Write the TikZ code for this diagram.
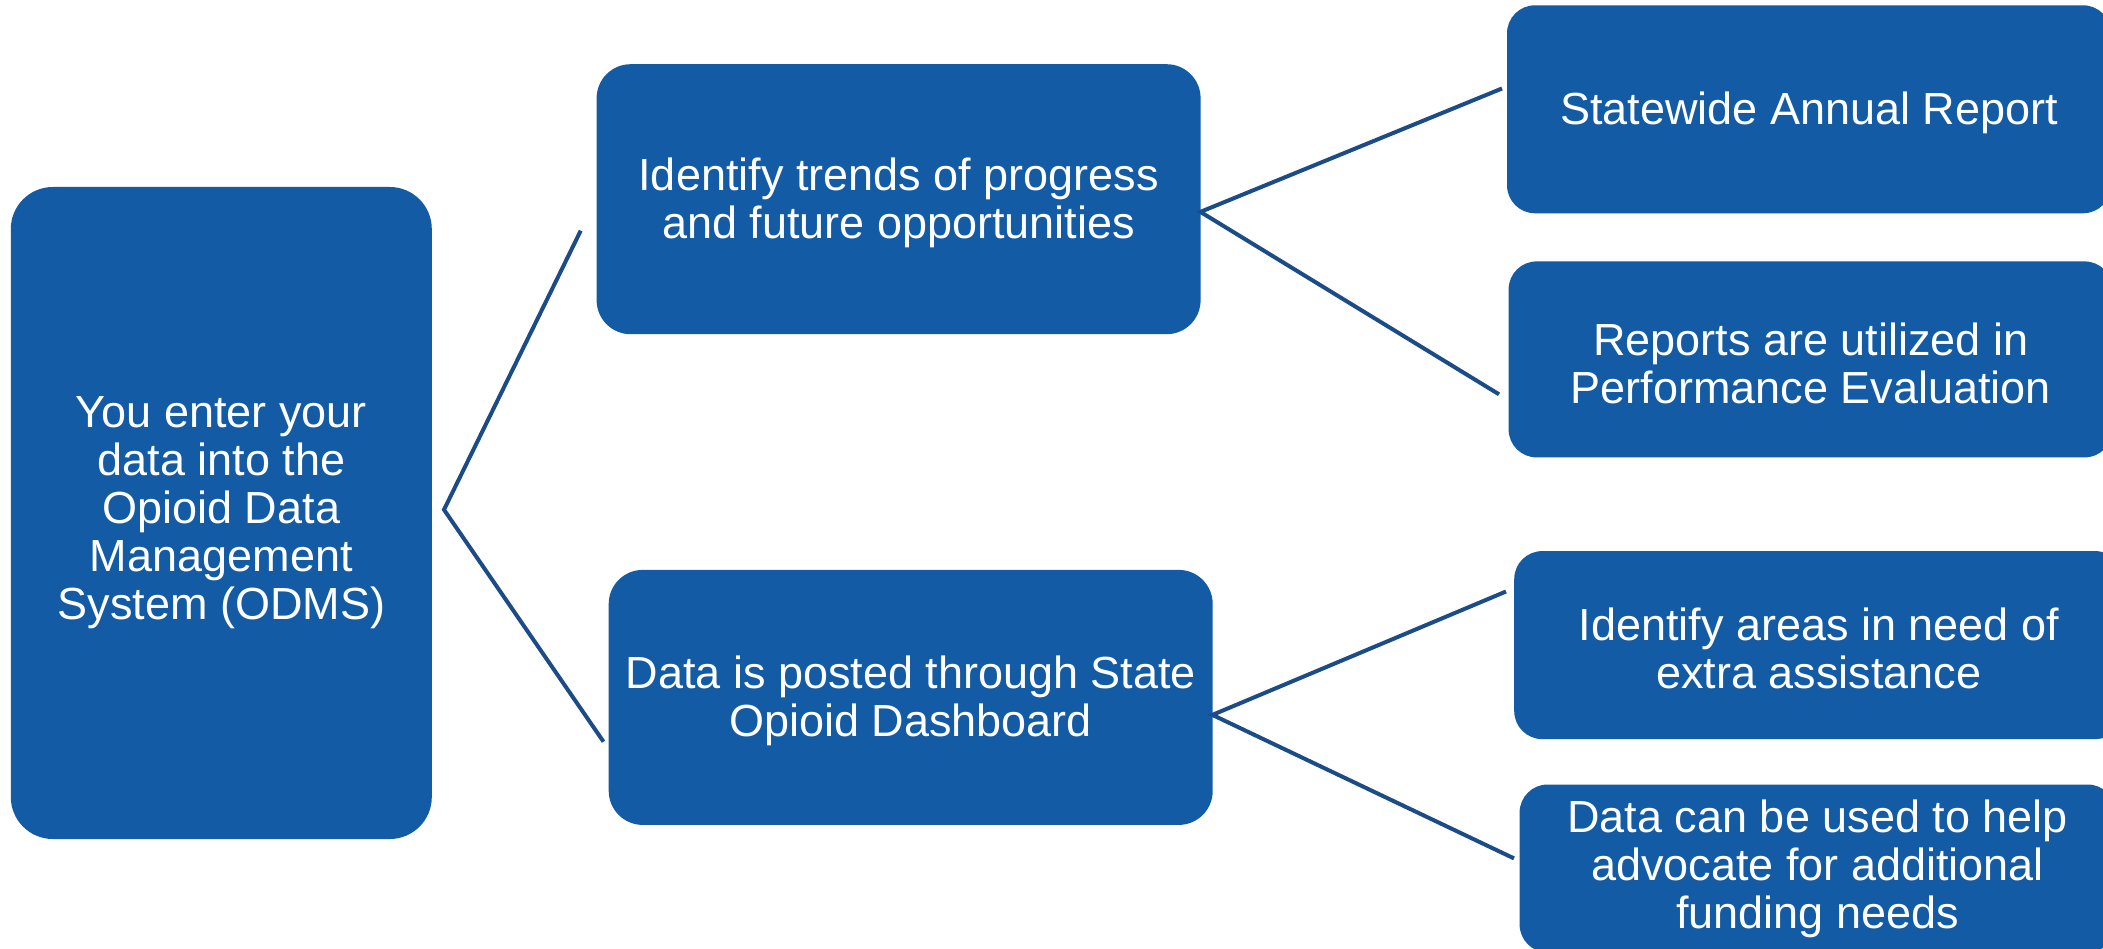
\documentclass[tikz,border=0pt]{standalone}
\usepackage{fontspec}
\setmainfont{Liberation Sans}
\definecolor{boxblue}{RGB}{20,91,166}
\definecolor{lineblue}{RGB}{28,76,135}
\begin{document}
\begin{tikzpicture}[x=1pt,y=-1pt,
  box/.style={fill=boxblue, draw=none, text=white, align=center,
    font=\fontsize{45}{48}\selectfont, inner sep=0pt},
  link/.style={draw=lineblue, line width=4pt}]
\clip (0,0) rectangle (2103,949);
\fill[white] (0,0) rectangle (2103,949);
% boxes
\node[box, rounded corners=42pt, minimum width=421pt, minimum height=652pt] (odms) at (221.3,513)
  {You enter your\\data into the\\Opioid Data\\Management\\System (ODMS)};
\node[box, rounded corners=34pt, minimum width=604pt, minimum height=270pt] (trends) at (898.6,199.2)
  {\rule{0pt}{40pt}Identify trends of progress\\and future opportunities};
\node[box, rounded corners=34pt, minimum width=604pt, minimum height=255pt] (dash) at (910.7,697.4)
  {\rule{0pt}{40pt}Data is posted through State\\Opioid Dashboard};
\node[box, rounded corners=28pt, minimum width=604pt, minimum height=208pt] (annual) at (1809,109.3)
  {\rule{0pt}{40pt}Statewide Annual Report};
\node[box, rounded corners=28pt, minimum width=604pt, minimum height=196pt] (perf) at (1810.6,359.4)
  {\rule{0pt}{40pt}Reports are utilized in\\Performance Evaluation};
\node[box, rounded corners=28pt, minimum width=609pt, minimum height=188pt] (areas) at (1818.7,645.1)
  {\rule{0pt}{40pt}Identify areas in need of\\extra assistance};
\node[box, rounded corners=28pt, minimum width=596pt, minimum height=168pt] (fund) at (1817.6,868.5)
  {Data can be used to help\\advocate for additional\\funding needs};
% connector points
\coordinate (apex) at (444,509.7);
\coordinate (lt) at (580.7,230.7);
\coordinate (lb) at (603.5,741.7);
\coordinate (tj) at (1200.4,211.9);
\coordinate (t1) at (1502,88.5);
\coordinate (t2) at (1499,394.3);
\coordinate (bj) at (1212.4,714.9);
\coordinate (b1) at (1506,591.5);
\coordinate (b2) at (1514,858.4);
% connectors
\draw[link] (lt) -- (apex) -- (lb);
\draw[link] (t1) -- (tj) -- (t2);
\draw[link] (b1) -- (bj) -- (b2);
\end{tikzpicture}
\end{document}
